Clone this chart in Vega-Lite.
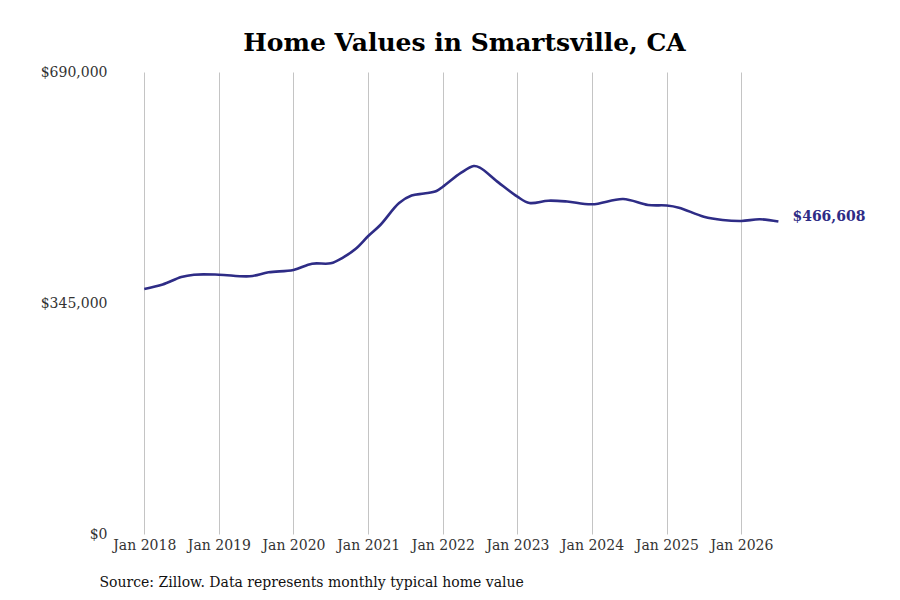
{
  "$schema": "https://vega.github.io/schema/vega-lite/v6.json",
  "width": 703,
  "height": 462,
  "autosize": "none",
  "padding": {"left": 113, "top": 72, "right": 84, "bottom": 66},
  "background": "white",
  "title": {
    "text": "Home Values in Smartsville, CA",
    "font": "DejaVu Serif",
    "fontSize": 25,
    "fontWeight": "bold",
    "color": "#000000",
    "anchor": "middle",
    "offset": 9
  },
  "data": {
    "values": [
      {"date": "2018-01-01", "value": 365900},
      {"date": "2018-04-01", "value": 372600},
      {"date": "2018-07-01", "value": 383800},
      {"date": "2018-09-01", "value": 387300},
      {"date": "2019-01-01", "value": 387300},
      {"date": "2019-06-01", "value": 384900},
      {"date": "2019-09-01", "value": 390800},
      {"date": "2020-01-01", "value": 394300},
      {"date": "2020-04-01", "value": 403700},
      {"date": "2020-07-01", "value": 404300},
      {"date": "2020-09-01", "value": 413200},
      {"date": "2020-11-01", "value": 426000},
      {"date": "2021-01-01", "value": 445000},
      {"date": "2021-03-01", "value": 461500},
      {"date": "2021-06-01", "value": 494300},
      {"date": "2021-08-01", "value": 505500},
      {"date": "2021-10-01", "value": 508500},
      {"date": "2021-12-01", "value": 512300},
      {"date": "2022-01-01", "value": 518700},
      {"date": "2022-04-01", "value": 539700},
      {"date": "2022-06-01", "value": 549500},
      {"date": "2022-07-01", "value": 547200},
      {"date": "2022-10-01", "value": 524800},
      {"date": "2023-01-01", "value": 503800},
      {"date": "2023-03-01", "value": 494400},
      {"date": "2023-06-01", "value": 497800},
      {"date": "2023-09-01", "value": 496600},
      {"date": "2024-01-01", "value": 492400},
      {"date": "2024-06-01", "value": 500300},
      {"date": "2024-10-01", "value": 491400},
      {"date": "2025-01-01", "value": 490600},
      {"date": "2025-03-01", "value": 487400},
      {"date": "2025-07-01", "value": 473900},
      {"date": "2025-10-01", "value": 469000},
      {"date": "2026-01-01", "value": 467500},
      {"date": "2026-04-01", "value": 470000},
      {"date": "2026-07-01", "value": 466608}
    ]
  },
  "encoding": {
    "x": {
      "field": "date",
      "type": "temporal",
      "scale": {"domain": ["2017-08-01", "2027-01-01"]},
      "axis": {
        "values": [
          {"year": 2018, "month": 1, "date": 1},
          {"year": 2019, "month": 1, "date": 1},
          {"year": 2020, "month": 1, "date": 1},
          {"year": 2021, "month": 1, "date": 1},
          {"year": 2022, "month": 1, "date": 1},
          {"year": 2023, "month": 1, "date": 1},
          {"year": 2024, "month": 1, "date": 1},
          {"year": 2025, "month": 1, "date": 1},
          {"year": 2026, "month": 1, "date": 1}
        ],
        "format": "%b %Y",
        "grid": true,
        "gridColor": "#c4c4c4",
        "gridWidth": 1,
        "domain": false,
        "ticks": false,
        "labelPadding": 4,
        "labelFont": "DejaVu Serif",
        "labelFontSize": 14,
        "labelColor": "#333333",
        "title": "Source: Zillow. Data represents monthly typical home value",
        "titleFont": "DejaVu Serif",
        "titleFontSize": 14,
        "titleFontWeight": "normal",
        "titleColor": "#111111",
        "titleAnchor": "start",
        "titleAlign": "left",
        "titleBaseline": "middle",
        "titleX": -14,
        "titleY": 48
      }
    },
    "y": {
      "field": "value",
      "type": "quantitative",
      "scale": {"domain": [0, 690000], "nice": false},
      "axis": {
        "values": [0, 345000, 690000],
        "format": "$,.0f",
        "grid": false,
        "domain": false,
        "ticks": false,
        "labelPadding": 6,
        "labelFont": "DejaVu Serif",
        "labelFontSize": 14,
        "labelColor": "#333333",
        "title": null
      }
    }
  },
  "layer": [
    {
      "mark": {
        "type": "line",
        "color": "#2e2c86",
        "strokeWidth": 2.6,
        "interpolate": "catmull-rom"
      }
    },
    {
      "transform": [{"filter": "datum.value == 466608"}],
      "mark": {
        "type": "text",
        "align": "left",
        "baseline": "middle",
        "dx": 14,
        "dy": -5,
        "font": "DejaVu Serif",
        "fontSize": 14,
        "fontWeight": "bold",
        "color": "#2e2c86"
      },
      "encoding": {
        "text": {"field": "value", "type": "quantitative", "format": "$,.0f"}
      }
    }
  ],
  "config": {
    "view": {"stroke": null}
  }
}
